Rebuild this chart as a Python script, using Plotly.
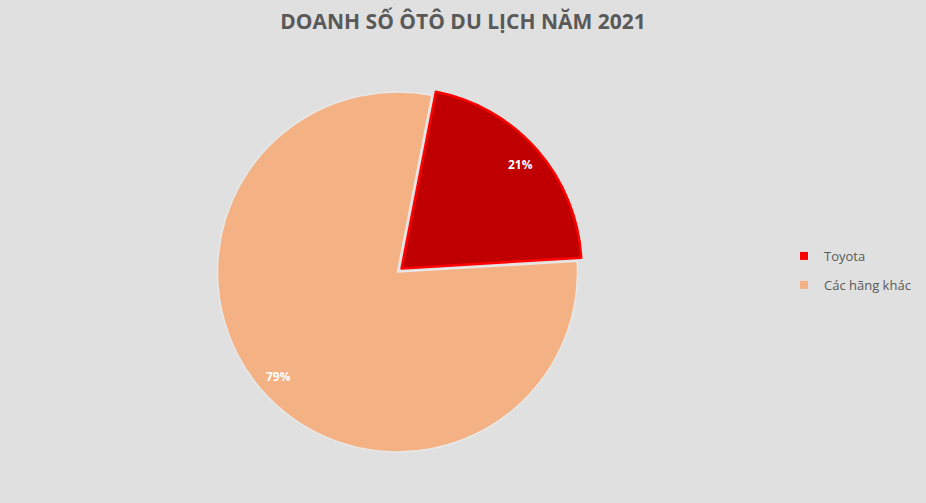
import math
import plotly.graph_objects as go

# data
labels = ["Toyota", "Các hãng khác"]
shares = [21, 79]
slice_colors = ["#C00000", "#F4B183"]
legend_colors = ["#FF0000", "#F4B183"]
edge_colors = ["#FF0000", "#E8E8E8"]
pulls = [0.03, 0]
start_angle = 11

bg = "#E0E0E0"
W, H = 926, 503

# pie geometry in pixels (center, radius of the unpulled slice)
cx, cy, r = 397.5, 272, 180
half = r * (1 + max(pulls))

fig = go.Figure()
fig.add_trace(go.Pie(
    labels=labels,
    values=shares,
    sort=False,
    direction="clockwise",
    rotation=start_angle,
    pull=pulls,
    marker=dict(colors=slice_colors, line=dict(color=edge_colors, width=[2.5, 1.5])),
    textinfo="none",
    domain=dict(x=[(cx - half) / W, (cx + half) / W], y=[(H - cy - half) / H, (H - cy + half) / H]),
    hoverinfo="label+percent",
    showlegend=False,
))

# percent labels placed along each slice bisector, like Excel's "inside end"
total = sum(shares)
acc = 0
for v, p in zip(shares, pulls):
    mid = math.radians(start_angle + (acc + v / 2) / total * 360)
    acc += v
    dist = r * (0.88 + p)
    px = cx + dist * math.sin(mid)
    py = cy - dist * math.cos(mid)
    fig.add_annotation(
        x=px / W, y=1 - py / H, xref="paper", yref="paper",
        xanchor="center", yanchor="middle",
        text="<b>%d%%</b>" % round(v / total * 100), showarrow=False,
        font=dict(family="Open Sans", size=12, color="white"),
    )

# legend built from marker-only dummy traces (lets the spacing match)
for name, c in zip(labels, legend_colors):
    fig.add_trace(go.Scatter(
        x=[None], y=[None], mode="markers", name=name,
        marker=dict(symbol="square", size=8, color=c),
        legendgroup=name,
    ))

fig.update_xaxes(visible=False)
fig.update_yaxes(visible=False)

fig.update_layout(
    width=W, height=H,
    paper_bgcolor=bg, plot_bgcolor=bg,
    margin=dict(l=0, r=0, t=0, b=0),
    title=dict(
        text="<b>DOANH SỐ ÔTÔ DU LỊCH NĂM 2021</b>",
        x=0.5, xanchor="center", y=1 - 22 / H, yanchor="middle",
        font=dict(family="Open Sans", size=21, color="#595959"),
    ),
    legend=dict(
        x=784 / W, y=1 - 241 / H, xanchor="left", yanchor="top",
        font=dict(family="Open Sans", size=13, color="#595959"),
        itemwidth=30, tracegroupgap=9,
        bgcolor="rgba(0,0,0,0)",
    ),
    showlegend=True,
)

fig.write_html(
    "out.html",
    config={"displayModeBar": False},
    post_script="document.body.style.margin='0';document.body.style.overflow='hidden';",
)
